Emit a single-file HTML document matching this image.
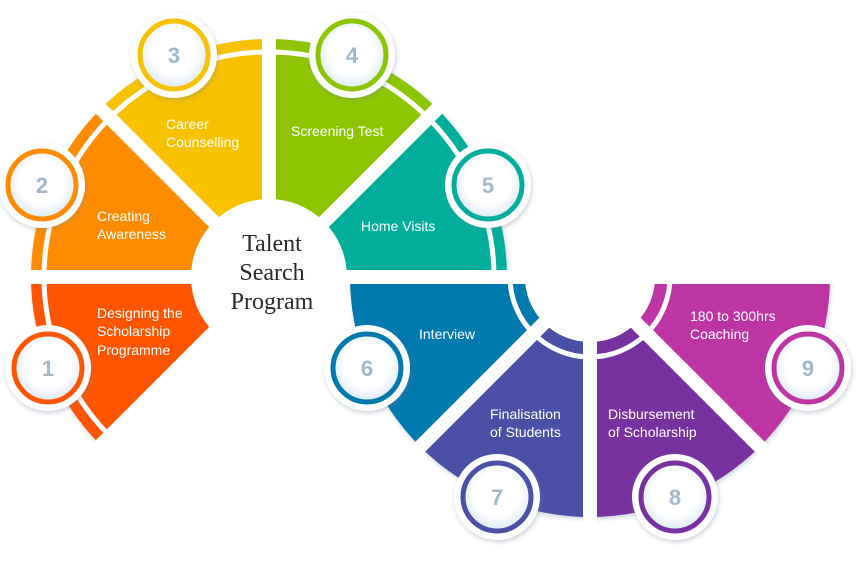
<!DOCTYPE html>
<html><head><meta charset="utf-8">
<style>
html,body{margin:0;padding:0;background:#fff;}
svg{display:block;}
.t{font-family:"Liberation Sans",sans-serif;font-size:14px;fill:#fff;}
.n{font-family:"Liberation Sans",sans-serif;font-size:22px;font-weight:bold;fill:#a3b8cc;text-anchor:middle;}
.c{font-family:"Liberation Serif",serif;font-size:24px;fill:#2a2a2a;text-anchor:middle;}
</style></head><body>
<svg id="s" width="868" height="561" viewBox="0 0 868 561" xmlns="http://www.w3.org/2000/svg">
<defs>
<filter id="sh" x="-20%" y="-20%" width="140%" height="140%"><feDropShadow dx="1" dy="2" stdDeviation="2.5" flood-color="#6a7f99" flood-opacity="0.35"/></filter>
<radialGradient id="ig" cx="50%" cy="45%" r="55%"><stop offset="0.6" stop-color="#fff"/><stop offset="1" stop-color="#dde8f4"/></radialGradient>
</defs>
<g id="wedges"></g>
<g id="circles"></g>
<text class="t" x="97" y="318">Designing the</text>
<text class="t" x="97" y="336">Scholarship</text>
<text class="t" x="97" y="355">Programme</text>
<text class="t" x="97" y="221">Creating</text>
<text class="t" x="97" y="239">Awareness</text>
<text class="t" x="166" y="129">Career</text>
<text class="t" x="166" y="147">Counselling</text>
<text class="t" x="291" y="136">Screening Test</text>
<text class="t" x="361" y="231">Home Visits</text>
<text class="t" x="419" y="339">Interview</text>
<text class="t" x="490" y="419">Finalisation</text>
<text class="t" x="490" y="437">of Students</text>
<text class="t" x="608" y="419">Disbursement</text>
<text class="t" x="608" y="437">of Scholarship</text>
<text class="t" x="690" y="321">180 to 300hrs</text>
<text class="t" x="690" y="339">Coaching</text>
<text class="c" x="272" y="251">Talent</text>
<text class="c" x="272" y="280">Search</text>
<text class="c" x="272" y="309">Program</text>
</svg>
<script>
var NS="http://www.w3.org/2000/svg";
function P(cx,cy,r,a){a=a*Math.PI/180;return [cx+r*Math.cos(a),cy+r*Math.sin(a)];}
function wedge(cx,cy,r0,r1,a0,a1){
 var p1=P(cx,cy,r1,a0),p2=P(cx,cy,r1,a1),p3=P(cx,cy,r0,a1),p4=P(cx,cy,r0,a0);
 return "M"+p1+" A"+r1+","+r1+" 0 0 1 "+p2+" L"+p3+" A"+r0+","+r0+" 0 0 0 "+p4+"Z";
}
function arc(cx,cy,r,a0,a1){var p1=P(cx,cy,r,a0),p2=P(cx,cy,r,a1);return "M"+p1+" A"+r+","+r+" 0 0 1 "+p2;}
function el(t,at,par){var e=document.createElementNS(NS,t);for(var k in at)e.setAttribute(k,at[k]);par.appendChild(e);return e;}
var W=document.getElementById("wedges"),C=document.getElementById("circles");
var L=[269,277],R=[590,277];
var segs=[
 [L,75,238,135,180,"#ff5400",225],
 [L,75,238,180,225,"#ff8c00",225],
 [L,75,238,225,270,"#f7c200",225],
 [L,75,238,270,315,"#8dc600",225],
 [L,75,238,315,360,"#00ae9a",225],
 [R,65,240,135,180,"#0079ae",80],
 [R,65,240,90,135,"#4b4fa5",80],
 [R,65,240,45,90,"#7731a0",80],
 [R,65,240,0,45,"#bd35a3",80]
];
var g=el("g",{filter:"url(#sh)"},W);
segs.forEach(function(s){el("path",{d:wedge(s[0][0],s[0][1],s[1],s[2],s[3],s[4]),fill:s[5]},g);});
segs.forEach(function(s){el("path",{d:arc(s[0][0],s[0][1],s[6],s[3]-1,s[4]+1),fill:"none",stroke:"#fff","stroke-width":5},W);});
[[L,[135,180,225,270,315,0]],[R,[0,45,90,135,180]]].forEach(function(q){
 q[1].forEach(function(a){var p=P(q[0][0],q[0][1],260,a);el("line",{x1:q[0][0],y1:q[0][1],x2:p[0],y2:p[1],stroke:"#fff","stroke-width":14},W);});
});
el("circle",{cx:269,cy:277,r:78,fill:"#fff"},W);
el("circle",{cx:590,cy:277,r:65,fill:"#fff"},W);
var circ=[[48,368,"#ff5400","1"],[42,185,"#ff8c00","2"],[174,55,"#f7c200","3"],[352,55,"#8dc600","4"],[488,185,"#00ae9a","5"],[367,368,"#0079ae","6"],[497,497,"#4b4fa5","7"],[675,497,"#7731a0","8"],[808,368,"#bd35a3","9"]];
circ.forEach(function(c){
 el("circle",{cx:c[0],cy:c[1],r:43,fill:"#fff",filter:"url(#sh)"},C);
 el("circle",{cx:c[0],cy:c[1],r:34,fill:"url(#ig)",stroke:c[2],"stroke-width":5},C);
 var t=el("text",{x:c[0],y:c[1]+8,"class":"n"},C);t.textContent=c[3];
});
</script>
</body></html>
